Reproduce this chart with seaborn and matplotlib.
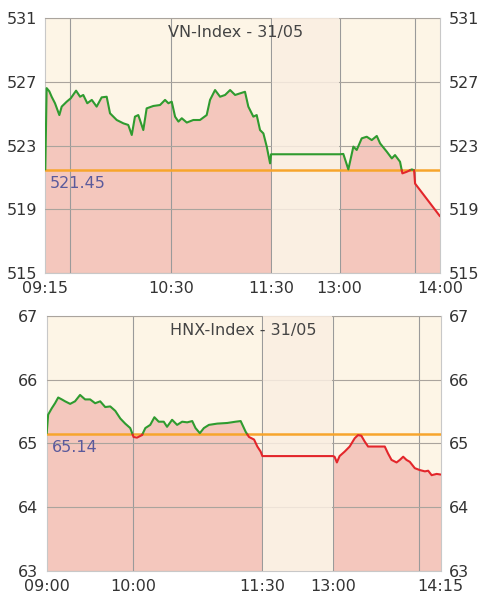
import numpy as np
import pandas as pd
import matplotlib
matplotlib.use("Agg")
from matplotlib import pyplot as plt
import seaborn as sns

# minutes since 09:00 and index values
vn_minutes = [15.0, 15.8, 17.4, 18.8, 20.8, 23.4, 24.8, 27.8, 30.2, 33.4, 35.8, 37.7, 40.1,
              42.8, 45.7, 48.7, 51.7, 53.7, 57.7, 61.7, 64.6, 66.7, 68.6, 70.6, 73.6, 75.6,
              79.6, 83.6, 86.6, 88.6, 90.6, 92.6, 94.6, 96.6, 99.6, 103.5, 107.5, 111.5,
              113.5, 116.5, 119.5, 122.5, 125.5, 128.5, 131.4, 134.4, 136.4, 139.4, 141.4,
              143.4, 145.4, 147.4, 149.4, 150.0, 240.0, 242.2, 245.2, 248.2, 250.2, 253.2,
              256.2, 259.2, 262.2, 264.2, 268.2, 271.2, 273.1, 276.1, 277.5, 280.1, 283.1,
              284.5, 285.1, 300.0]
vn_values = [521.5, 526.6, 526.4, 526.06, 525.65, 524.91, 525.44, 525.75, 525.96, 526.44,
             526.06, 526.17, 525.65, 525.86, 525.44, 526.02, 526.06, 525.02, 524.6, 524.39,
             524.29, 523.66, 524.81, 524.91, 523.97, 525.33, 525.48, 525.54, 525.86, 525.65,
             525.75, 524.81, 524.5, 524.71, 524.44, 524.6, 524.6, 524.91, 525.86, 526.48,
             526.06, 526.17, 526.48, 526.17, 526.27, 526.37, 525.44, 524.81, 524.91, 523.97,
             523.76, 522.93, 521.88, 522.45, 522.45, 522.47, 521.5, 522.93, 522.72, 523.45,
             523.55, 523.34, 523.6, 523.13, 522.61, 522.19, 522.4, 521.98, 521.25, 521.35,
             521.5, 521.45, 520.61, 518.56]
vn_ref = 521.45

hnx_minutes = [0, 1, 3.5, 5.8, 8, 10.5, 12.8, 16.3, 19.7, 23.2, 26.7, 30.2, 33.7, 37.2, 40.7,
               44.2, 47.7, 51.2, 54.6, 58.1, 60.4, 62.8, 66.3, 68.6, 72, 74.9, 77.9, 81.4,
               83.7, 87.2, 90.7, 94.2, 97.7, 101.2, 103.5, 106.5, 109.3, 112.8, 118.6, 125.6,
               131.4, 134.9, 138.4, 140.7, 144.2, 146.5, 148.8, 150, 240, 241.2, 242.8, 244.7,
               248.2, 251.7, 255.2, 257.5, 259.8, 262.1, 264.5, 276.1, 278.4, 280.8, 284.3,
               286.6, 288.9, 291.2, 293.5, 297, 300.5, 304, 306.3, 308.7, 312.2, 315]
hnx_values = [65.16, 65.45, 65.55, 65.63, 65.72, 65.69, 65.66, 65.62, 65.66, 65.76, 65.69,
              65.69, 65.63, 65.66, 65.57, 65.58, 65.51, 65.39, 65.31, 65.24, 65.10, 65.09,
              65.13, 65.24, 65.29, 65.41, 65.34, 65.34, 65.26, 65.37, 65.29, 65.34, 65.33,
              65.35, 65.24, 65.16, 65.24, 65.29, 65.31, 65.32, 65.34, 65.35, 65.18, 65.10,
              65.06, 64.95, 64.87, 64.80, 64.80, 64.79, 64.70, 64.80, 64.87, 64.95, 65.08,
              65.13, 65.12, 65.03, 64.95, 64.95, 64.84, 64.74, 64.70, 64.74, 64.79, 64.74,
              64.71, 64.61, 64.58, 64.56, 64.57, 64.50, 64.52, 64.51]
hnx_ref = 65.14

vn_tick_minutes = [15, 90, 150, 240, 300]
vn_tick_labels = ["09:15", "10:30", "11:30", "13:00", "14:00"]
vn_grid_minutes = [30, 90, 150, 240, 285]
hnx_tick_minutes = [0, 60, 150, 240, 315]
hnx_tick_labels = ["09:00", "10:00", "11:30", "13:00", "14:15"]
hnx_grid_minutes = [60, 150, 240, 300]

CREAM = "#fdf5e6"
PINK = "#f4c7bd"
LUNCH = "#faeee2"
GREEN = "#2f9b2f"
RED = "#e3262b"
ORANGE = "#f7a52c"


def lunch_scale(lunch_units):
    # lunch break 11:30-13:00 is squeezed on the time axis
    k = lunch_units / 90.0

    def fwd(x):
        x = np.asarray(x, dtype=float)
        return x - (1 - k) * np.clip(x - 150, 0, 90)

    def inv(u):
        u = np.asarray(u, dtype=float)
        return np.where(u <= 150, u,
                        np.where(u <= 150 + 90 * k, 150 + (u - 150) / k, u + (1 - k) * 90))
    return fwd, inv


def split_by_ref(t, v, ref):
    rows = []
    seg = 0
    side = v[0] >= ref
    rows.append((t[0], v[0], seg, side))
    for i in range(1, len(t)):
        s = v[i] >= ref
        if s != side:
            tc = t[i-1] + (ref - v[i-1]) * (t[i] - t[i-1]) / (v[i] - v[i-1])
            rows.append((tc, ref, seg, side))
            seg += 1
            side = s
            rows.append((tc, ref, seg, side))
        rows.append((t[i], v[i], seg, side))
    df = pd.DataFrame(rows, columns=["t", "v", "seg", "up"])
    df["side"] = np.where(df["up"], "up", "down")
    return df


def draw_panel(ax, minutes, values, ref, title, title_x, ylim, yticks,
               tick_minutes, tick_labels, grid_minutes, lunch_units):
    t = np.array(minutes, dtype=float)
    v = np.array(values, dtype=float)
    ax.set_xscale("function", functions=lunch_scale(lunch_units))
    ax.set_facecolor(CREAM)

    morning = t <= 150
    afternoon = t >= 240
    ax.fill_between(t[morning], ylim[0], v[morning], color=PINK, lw=0, zorder=1)
    ax.fill_between(t[afternoon], ylim[0], v[afternoon], color=PINK, lw=0, zorder=1)
    ax.axvspan(151, 239, color=LUNCH, alpha=0.85, lw=0, zorder=2.6)

    ax.axhline(ref, color=ORANGE, lw=1.8, zorder=3)
    df = split_by_ref(t, v, ref)
    sns.lineplot(data=df, x="t", y="v", units="seg", estimator=None, hue="side",
                 palette={"up": GREEN, "down": RED}, sort=False, legend=False,
                 lw=1.5, ax=ax, zorder=4)

    ax.set_xlim(minutes[0], minutes[-1])
    ax.set_ylim(*ylim)
    ax.xaxis.remove_overlapping_locs = False
    ax.set_xticks(tick_minutes)
    ax.set_xticklabels(tick_labels)
    ax.set_xticks(grid_minutes, minor=True)
    ax.set_yticks(yticks)
    ax.set_axisbelow(False)
    ax.grid(which="minor", axis="x", color="#9a9a9a", lw=0.8)
    ax.grid(which="major", axis="y", color="#aaa49d", lw=0.8)
    ax.grid(which="major", axis="x", visible=False)
    ax.tick_params(which="both", length=0, labelsize=11.5, labelcolor="#333333")
    ax.tick_params(axis="y", labelleft=True, labelright=True, pad=6)
    ax.tick_params(axis="x", pad=6)
    ax.set_xlabel("")
    ax.set_ylabel("")
    for sp in ax.spines.values():
        sp.set_color("#c8c8c8")
        sp.set_linewidth(0.8)

    ax.text(title_x, 0.945, title, transform=ax.transAxes, ha="center", va="center",
            fontsize=11.5, color="#444444", zorder=5)
    ax.annotate(f"{ref:.2f}", xy=(0.012, ref), xycoords=("axes fraction", "data"),
                xytext=(0, -4), textcoords="offset points", ha="left", va="top",
                fontsize=11.5, color="#5a5a9c", zorder=5)


sns.set_style("white")
plt.rcParams["font.family"] = ["DejaVu Sans"]

fig = plt.figure(figsize=(4.92, 6.08), dpi=100)
ax1 = fig.add_axes([45.3 / 492, 1 - 273 / 608, 394.7 / 492, 255 / 608])
ax2 = fig.add_axes([46.7 / 492, 1 - 570.7 / 608, 394 / 492, 254.7 / 608])

draw_panel(ax1, vn_minutes, vn_values, vn_ref, "VN-Index - 31/05", 0.483,
           (515, 531), [515, 519, 523, 527, 531],
           vn_tick_minutes, vn_tick_labels, vn_grid_minutes, 41)
draw_panel(ax2, hnx_minutes, hnx_values, hnx_ref, "HNX-Index - 31/05", 0.499,
           (63, 67), [63, 64, 65, 66, 67],
           hnx_tick_minutes, hnx_tick_labels, hnx_grid_minutes, 49)

plt.savefig("out.png", dpi=100)
